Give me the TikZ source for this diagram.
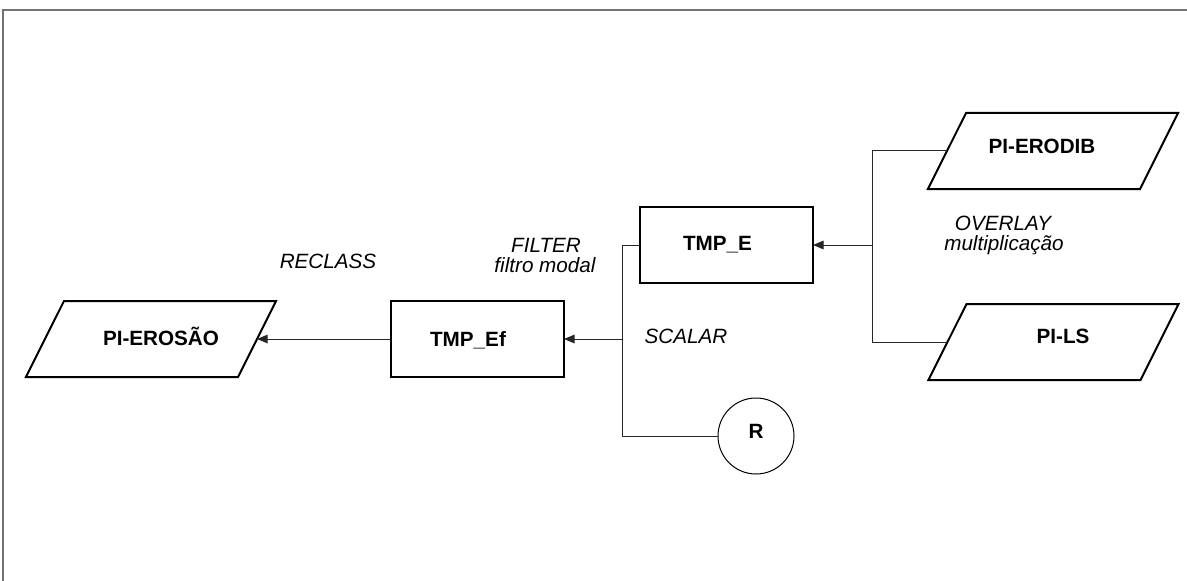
\documentclass[tikz,border=0pt]{standalone}
\usepackage{fontspec}
\setmainfont{Liberation Sans}
\usetikzlibrary{shapes.geometric,arrows.meta}
\begin{document}
\begin{tikzpicture}[x=0.75pt,y=-0.75pt,
  box/.style={draw, line width=1.5pt, minimum width=129.75pt, minimum height=57pt, inner sep=0pt, outer sep=0pt},
  para/.style={trapezium, draw, line width=1.5pt, trapezium left angle=63.4, trapezium right angle=116.6, inner xsep=65.25pt, inner ysep=28.5pt, minimum size=0pt, outer sep=0pt},
  circ/.style={circle, draw, line width=0.75pt, minimum size=57pt, inner sep=0pt, outer sep=0pt},
  lbltxt/.style={font=\fontsize{15.5}{18}\selectfont\bfseries, inner sep=0pt, anchor=base},
  op/.style={font=\fontsize{15.5}{18}\selectfont\itshape, inner sep=0pt, anchor=base},
  conn/.style={line width=0.75pt, draw=black!85},
  arr/.style={conn, -{Triangle[length=8pt,width=6.5pt]}},
  frame/.style={draw=black!55, line width=1.6pt}
]
\useasboundingbox (0,0) rectangle (1187,581);
\draw[frame] (3,581) -- (3,10) -- (1187,10);

% shapes
\node[para] (ero) at (151,339) {};
\node[box] (tmpef) at (477.5,339) {};
\node[box] (tmpe) at (726.5,245) {};
\node[para] (erodib) at (1053,151) {};
\node[para] (pils) at (1053.5,342) {};
\node[circ] (r) at (756,436) {};

% node texts
\node[lbltxt] (ero-t) at (161,345) {PI-EROSÃO};
\node[lbltxt] (tmpef-t) at (468,346) {TMP\_Ef};
\node[lbltxt] (tmpe-t) at (717.5,250) {TMP\_E};
\node[lbltxt] (erodib-t) at (1042,153) {PI-ERODIB};
\node[lbltxt] (pils-t) at (1063,343) {PI-LS};
\node[lbltxt] (r-t) at (756,438) {R};

% operation labels
\node[op] (reclass) at (328,268) {RECLASS};
\node[op] (filter) at (546,252) {FILTER};
\node[op] (filtro) at (545,272) {filtro modal};
\node[op] (scalar) at (686,343) {SCALAR};
\node[op] (overlay) at (1003,230) {OVERLAY};
\node[op] (mult) at (1004,250) {multiplicação};

% junctions
\coordinate (jr) at (872,245);
\coordinate (jl) at (622,339);

% connectors
\draw[conn] (erodib) -| (jr);
\draw[conn] (pils) -| (jr);
\draw[arr] (jr) -- (tmpe);
\draw[conn] (tmpe) -| (jl);
\draw[conn] (r) -| (jl);
\draw[arr] (jl) -- (tmpef);
\draw[arr] (tmpef) -- (ero);
\end{tikzpicture}
\end{document}
